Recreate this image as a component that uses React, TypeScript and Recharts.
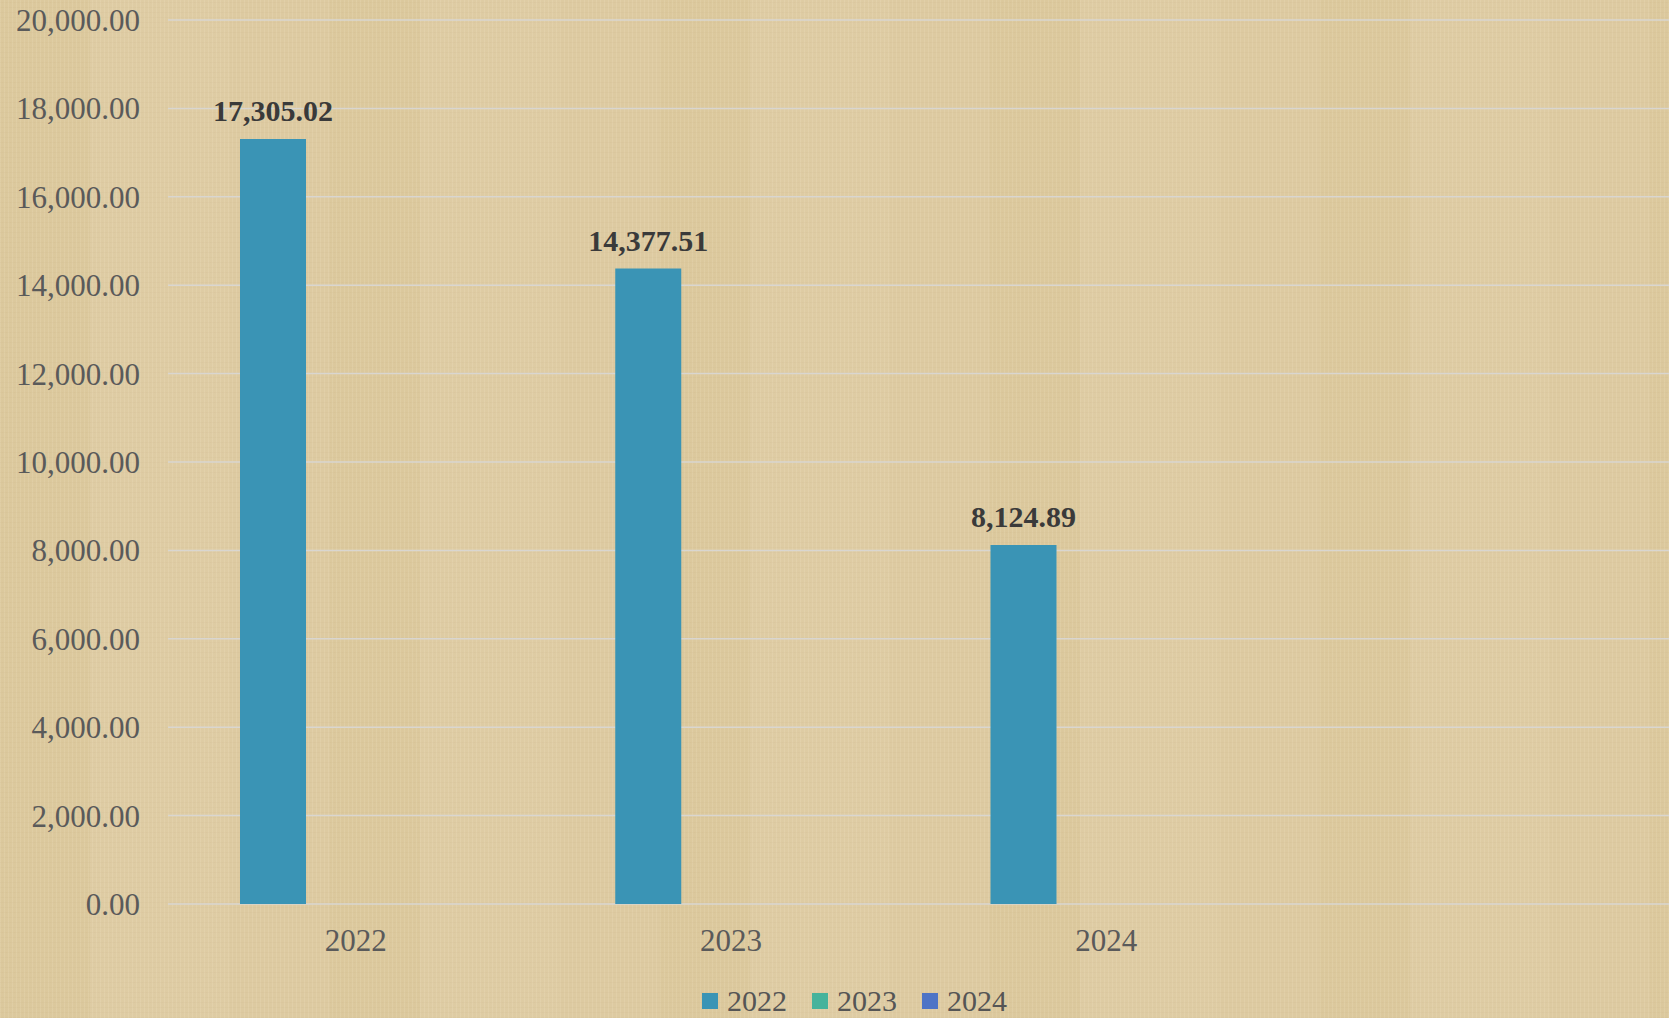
import { BarChart, Bar, XAxis, YAxis, CartesianGrid, Legend, LabelList } from 'recharts';

const categories = ['2022', '2023', '2024', ''];
const series2022 = [17305.02, 14377.51, 8124.89, null];
const series2023 = [null, null, null, null];
const series2024 = [null, null, null, null];
const yTicks = [0, 2000, 4000, 6000, 8000, 10000, 12000, 14000, 16000, 18000, 20000];

const seriesNames = ['2022', '2023', '2024'];
const seriesColors = ['#3A94B5', '#46B39C', '#4E74C6'];

const data = categories.map((c, i) => ({
  name: c,
  s2022: series2022[i],
  s2023: series2023[i],
  s2024: series2024[i],
}));

const fmt = (v: any) =>
  v == null ? '' : Number(v).toLocaleString('en-US', { minimumFractionDigits: 2, maximumFractionDigits: 2 });

const FONT = '"Liberation Serif", "DejaVu Serif", serif';

// papyrus-like backdrop
const paper: React.CSSProperties = {
  position: 'fixed',
  left: 0,
  top: 0,
  width: 1669,
  height: 1018,
  overflow: 'hidden',
  backgroundColor: '#DDCAA1',
  backgroundImage: [
    'repeating-linear-gradient(90deg, rgba(255,245,220,0.12) 0px, rgba(255,245,220,0.12) 1px, transparent 1px, transparent 4px)',
    'repeating-linear-gradient(0deg, rgba(150,120,70,0.04) 0px, rgba(150,120,70,0.04) 1px, transparent 1px, transparent 5px)',
    'repeating-linear-gradient(90deg, rgba(205,185,120,0.10) 0px, rgba(205,185,120,0.10) 90px, rgba(232,218,185,0.10) 90px, rgba(232,218,185,0.10) 230px, transparent 230px, transparent 330px)',
  ].join(', '),
};

function LegendContent() {
  return (
    <div style={{ display: 'flex', paddingLeft: 702, paddingTop: 22, fontFamily: FONT, fontSize: 30, color: '#555555' }}>
      {seriesNames.map((n, i) => (
        <div key={n} style={{ display: 'flex', alignItems: 'center', marginRight: 25 }}>
          <span style={{ display: 'inline-block', width: 16, height: 16, background: seriesColors[i], marginRight: 9 }} />
          <span style={{ lineHeight: '30px' }}>{n}</span>
        </div>
      ))}
    </div>
  );
}

export default function App() {
  return (
    <div style={paper}>
      <BarChart
        width={1669}
        height={1018}
        data={data}
        margin={{ top: 20, right: 0, bottom: 0, left: 0 }}
        barSize={66}
        barGap={17}
      >
        <CartesianGrid vertical={false} stroke="#D9D6D0" strokeWidth={1.5} />
        <XAxis
          dataKey="name"
          axisLine={false}
          tickLine={false}
          height={60}
          tickMargin={19}
          tick={{ fontSize: 31, fill: '#5A5A5A', fontFamily: FONT }}
        />
        <YAxis
          width={168}
          domain={[0, 20000]}
          ticks={yTicks}
          axisLine={false}
          tickLine={false}
          tickMargin={22}
          tickFormatter={fmt}
          tick={{ fontSize: 31, fill: '#5A5A5A', fontFamily: FONT }}
        />
        <Legend verticalAlign="bottom" wrapperStyle={{ height: 54, left: 0, bottom: 0 }} content={<LegendContent />} />
        <Bar dataKey="s2022" name="2022" fill={seriesColors[0]} isAnimationActive={false}>
          <LabelList
            dataKey="s2022"
            position="top"
            offset={18}
            formatter={fmt}
            style={{ fontSize: 30, fontWeight: 600, fill: '#3A3A3A', fontFamily: FONT }}
          />
        </Bar>
        <Bar dataKey="s2023" name="2023" fill={seriesColors[1]} isAnimationActive={false} />
        <Bar dataKey="s2024" name="2024" fill={seriesColors[2]} isAnimationActive={false} />
      </BarChart>
    </div>
  );
}
